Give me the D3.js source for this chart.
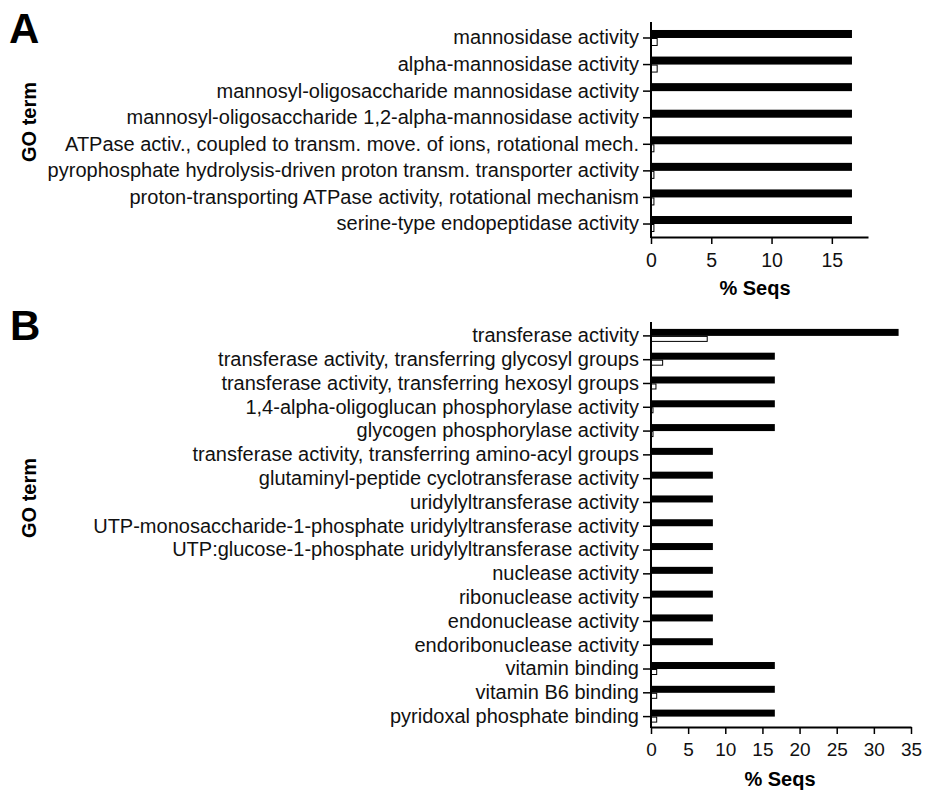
<!DOCTYPE html>
<html>
<head>
<meta charset="utf-8">
<script src="https://cdn.jsdelivr.net/npm/d3@7"></script>
<style>
  html, body { margin: 0; padding: 0; background: #fff; }
  svg { display: block; font-family: "Liberation Sans", Arial, sans-serif; }
</style>
</head>
<body>
<svg id="chart" width="925" height="792"></svg>
<script>
// Panel A: GO terms and % of sequences in the two sets
const termsA = [
  "mannosidase activity",
  "alpha-mannosidase activity",
  "mannosyl-oligosaccharide mannosidase activity",
  "mannosyl-oligosaccharide 1,2-alpha-mannosidase activity",
  "ATPase activ., coupled to transm. move. of ions, rotational mech.",
  "pyrophosphate hydrolysis-driven proton transm. transporter activity",
  "proton-transporting ATPase activity, rotational mechanism",
  "serine-type endopeptidase activity"
];
const testA = [16.67, 16.67, 16.67, 16.67, 16.67, 16.67, 16.67, 16.67];
const refA  = [0.47, 0.47, 0, 0, 0.2, 0.2, 0.2, 0.2];
const ticksA = [0, 5, 10, 15];

// Panel B
const termsB = [
  "transferase activity",
  "transferase activity, transferring glycosyl groups",
  "transferase activity, transferring hexosyl groups",
  "1,4-alpha-oligoglucan phosphorylase activity",
  "glycogen phosphorylase activity",
  "transferase activity, transferring amino-acyl groups",
  "glutaminyl-peptide cyclotransferase activity",
  "uridylyltransferase activity",
  "UTP-monosaccharide-1-phosphate uridylyltransferase activity",
  "UTP:glucose-1-phosphate uridylyltransferase activity",
  "nuclease activity",
  "ribonuclease activity",
  "endonuclease activity",
  "endoribonuclease activity",
  "vitamin binding",
  "vitamin B6 binding",
  "pyridoxal phosphate binding"
];
const testB = [33.33, 16.67, 16.67, 16.67, 16.67, 8.33, 8.33, 8.33, 8.33, 8.33, 8.33, 8.33, 8.33, 8.33, 16.67, 16.67, 16.67];
const refB  = [7.5, 1.5, 0.6, 0.2, 0.2, 0, 0, 0, 0, 0, 0, 0, 0, 0, 0.7, 0.7, 0.7];
const ticksB = [0, 5, 10, 15, 20, 25, 30, 35];

const svg = d3.select("#chart");

function panel(cfg) {
  const g = svg.append("g");
  const x = d3.scaleLinear().domain(cfg.xDomain).range([cfg.x0, cfg.x1]);
  const y = d3.scaleBand().domain(cfg.terms).range([cfg.yTop, cfg.yBottom]).padding(0);

  // filled bars (upper) and open bars (lower) for each term
  g.selectAll("rect.test").data(cfg.terms).join("rect")
    .attr("class", "test")
    .attr("x", x(0))
    .attr("y", d => y(d) + y.bandwidth() / 2 - cfg.hBlack)
    .attr("width", (d, i) => x(cfg.test[i]) - x(0))
    .attr("height", cfg.hBlack)
    .attr("fill", "#000");

  g.selectAll("rect.ref").data(cfg.terms.map((t, i) => ({ t, v: cfg.ref[i] })).filter(d => d.v > 0)).join("rect")
    .attr("class", "ref")
    .attr("x", x(0) + 0.5)
    .attr("y", d => y(d.t) + y.bandwidth() / 2 + 0.5)
    .attr("width", d => Math.max(1, x(d.v) - x(0)))
    .attr("height", cfg.hWhite - 1)
    .attr("fill", "#fff")
    .attr("stroke", "#000")
    .attr("stroke-width", 1);

  // category axis
  const ya = g.append("g")
    .attr("transform", `translate(${cfg.x0},0)`)
    .call(d3.axisLeft(y).tickSize(8).tickPadding(4).tickSizeOuter(0));
  ya.select(".domain").remove();
  ya.selectAll(".tick line").attr("stroke", "#000").attr("stroke-width", 1.5);
  ya.selectAll(".tick text")
    .attr("fill", "#111")
    .style("font-size", "20px")
    .style("font-family", '"Liberation Sans", Arial, sans-serif');
  g.append("line")
    .attr("x1", cfg.x0).attr("x2", cfg.x0)
    .attr("y1", cfg.axisTop).attr("y2", cfg.axisY + 1)
    .attr("stroke", "#000").attr("stroke-width", 2);

  // value axis
  const xa = g.append("g")
    .attr("transform", `translate(0,${cfg.axisY})`)
    .call(d3.axisBottom(x).tickValues(cfg.ticks).tickFormat(d3.format("d")).tickSize(7).tickPadding(9).tickSizeOuter(0));
  xa.select(".domain").attr("stroke", "#000").attr("stroke-width", 2);
  xa.selectAll(".tick line").attr("stroke", "#000").attr("stroke-width", 1.5);
  xa.selectAll(".tick text")
    .attr("fill", "#111")
    .style("font-size", cfg.tickFont + "px")
    .style("font-family", '"Liberation Sans", Arial, sans-serif');

  g.append("text")
    .attr("x", cfg.xTitleX).attr("y", cfg.xTitleY)
    .attr("text-anchor", "middle")
    .style("font-weight", "bold").style("font-size", "20px")
    .text("% Seqs");

  g.append("text")
    .attr("transform", `translate(36,${cfg.yTitleY}) rotate(-90)`)
    .attr("text-anchor", "middle")
    .style("font-weight", "bold").style("font-size", "20px")
    .text("GO term");

  g.append("text")
    .attr("x", cfg.letterX).attr("y", cfg.letterY)
    .style("font-weight", "bold").style("font-size", "42px")
    .text(cfg.letter);
}

panel({
  terms: termsA, test: testA, ref: refA, ticks: ticksA,
  xDomain: [0, 18], x0: 651, x1: 868,
  yTop: 24.7, yBottom: 237.3, axisTop: 22, axisY: 237,
  hBlack: 8, hWhite: 8, tickFont: 19.5,
  xTitleX: 755, xTitleY: 295, yTitleY: 122,
  letter: "A", letterX: 9, letterY: 43
});

panel({
  terms: termsB, test: testB, ref: refB, ticks: ticksB,
  xDomain: [0, 35], x0: 651, x1: 911,
  yTop: 324, yBottom: 728.5, axisTop: 322, axisY: 727,
  hBlack: 7, hWhite: 6, tickFont: 19,
  xTitleX: 780, xTitleY: 786, yTitleY: 498,
  letter: "B", letterX: 10, letterY: 340
});
</script>
</body>
</html>
